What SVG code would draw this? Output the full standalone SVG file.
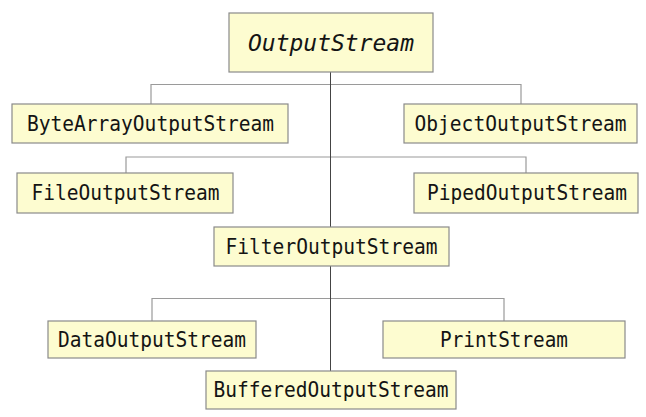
<svg xmlns="http://www.w3.org/2000/svg" width="646" height="417" viewBox="0 0 646 417">
<style>
.box{fill:#fdfcd0;stroke:#8a8a8a;stroke-width:1.2}
.t{font-family:"DejaVu Sans Mono","Liberation Mono",monospace;font-size:21px;fill:#141414;text-anchor:middle;dominant-baseline:central}
.ti{font-size:23.5px;font-style:italic}
.h{fill:none;stroke:#9a9a9a;stroke-width:1.2}
.v{fill:none;stroke:#444;stroke-width:1}
</style>
<rect width="646" height="417" fill="#fff"/>
<g id="connectors">
<path class="h" d="M151,104 V84.5 H521 V104"/>
<path class="h" d="M126,173 V157 H526 V173"/>
<path class="h" d="M152,321 V298.5 H504 V321"/>
<path class="v" d="M330.5,72 V227"/>
<path class="v" d="M330.5,266 V371"/>
</g>
<g id="OutputStream"><rect class="box" x="229" y="13" width="204" height="59"/><text class="t ti" x="331" y="43" textLength="166" lengthAdjust="spacingAndGlyphs">OutputStream</text></g>
<g id="ByteArrayOutputStream"><rect class="box" x="12" y="104" width="276" height="39"/><text class="t" x="150.5" y="123.5" textLength="247" lengthAdjust="spacingAndGlyphs">ByteArrayOutputStream</text></g>
<g id="ObjectOutputStream"><rect class="box" x="404" y="104" width="233" height="39"/><text class="t" x="520.5" y="123.5" textLength="212" lengthAdjust="spacingAndGlyphs">ObjectOutputStream</text></g>
<g id="FileOutputStream"><rect class="box" x="17" y="173" width="216" height="40"/><text class="t" x="125.5" y="193" textLength="188" lengthAdjust="spacingAndGlyphs">FileOutputStream</text></g>
<g id="PipedOutputStream"><rect class="box" x="414" y="173" width="224" height="40"/><text class="t" x="527" y="193" textLength="200" lengthAdjust="spacingAndGlyphs">PipedOutputStream</text></g>
<g id="FilterOutputStream"><rect class="box" x="214" y="227" width="235" height="39"/><text class="t" x="331.5" y="246.5" textLength="212" lengthAdjust="spacingAndGlyphs">FilterOutputStream</text></g>
<g id="DataOutputStream"><rect class="box" x="48" y="321" width="208" height="37"/><text class="t" x="152" y="339.5" textLength="188" lengthAdjust="spacingAndGlyphs">DataOutputStream</text></g>
<g id="PrintStream"><rect class="box" x="383" y="321" width="242" height="37"/><text class="t" x="504" y="339.5" textLength="128" lengthAdjust="spacingAndGlyphs">PrintStream</text></g>
<g id="BufferedOutputStream"><rect class="box" x="206" y="371" width="250" height="38"/><text class="t" x="331" y="390" textLength="235" lengthAdjust="spacingAndGlyphs">BufferedOutputStream</text></g>
</svg>
